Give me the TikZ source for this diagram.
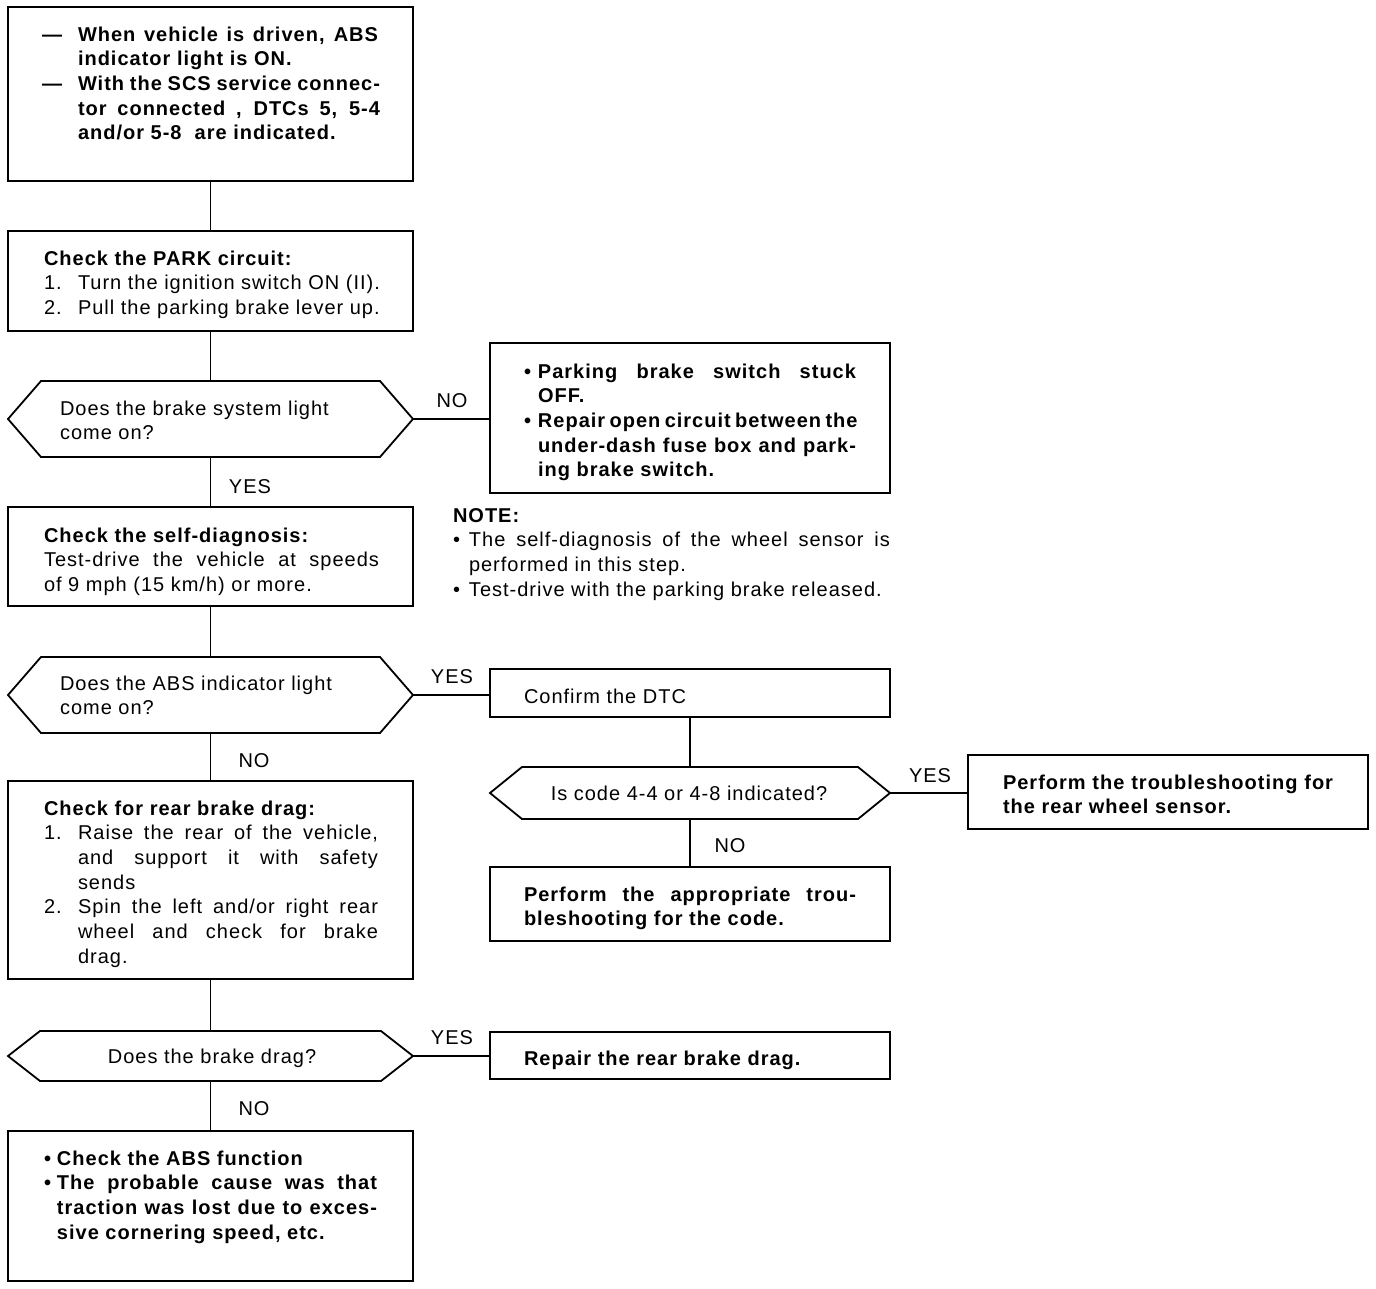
\documentclass[tikz,border=0pt]{standalone}
\usepackage{fontspec}
\setmainfont{Liberation Sans}[LetterSpace=5]
\newcommand\blk[1]{\vtop{\baselineskip=24.7pt\lineskiplimit=-20pt\lineskip=0pt #1}}
\newcommand\Ln[1]{\hbox{#1}}
\newcommand\Lj[2]{\hbox to #1{#2}}
\newcommand\hng[3]{\hbox{\makebox[#1][l]{#2}#3}}
\newcommand\hngj[4]{\hbox{\makebox[#1][l]{#2}\hbox to #3{#4}}}
\newcommand\ind[2]{\hbox{\hspace*{#1}#2}}
\newcommand\indj[3]{\hbox{\hspace*{#1}\hbox to #2{#3}}}
\newcommand\hexof[2]{\draw[boxline] ([xshift=#2]#1.north west) -- ([xshift=-#2]#1.north east) -- (#1.east) -- ([xshift=-#2]#1.south east) -- ([xshift=#2]#1.south west) -- (#1.west) -- cycle;}
\begin{document}
\begin{tikzpicture}[x=1pt,y=-1pt,
  font=\fontsize{20pt}{24.7pt}\selectfont,
  boxline/.style={line width=1.8pt,line join=miter},
  box/.style={draw,boxline,anchor=north west,inner sep=0pt,outer sep=0pt},
  hexn/.style={anchor=north west,inner sep=0pt,outer sep=0pt},
  txt/.style={anchor=base west,inner sep=0pt,outer sep=0pt},
  btxt/.style={txt,font=\fontsize{20pt}{24.7pt}\selectfont\bfseries},
  ctxt/.style={anchor=base,inner sep=0pt,outer sep=0pt},
  lbl/.style={anchor=base,inner sep=0pt},
  conn/.style={line width=1.5pt}]
\useasboundingbox (0,0) rectangle (1376,1288);
\fill[white] (0,0) rectangle (1376,1288);

% boxes
\node[box,minimum width=405pt,minimum height=174pt] (b1) at (8,7) {};
\node[box,minimum width=405pt,minimum height=100pt] (b2) at (8,231) {};
\node[hexn,minimum width=405pt,minimum height=76pt] (h1) at (8,381) {};
\hexof{h1}{33pt}
\node[box,minimum width=400pt,minimum height=150pt] (b3) at (490,343) {};
\node[box,minimum width=405pt,minimum height=99pt] (b4) at (8,507) {};
\node[hexn,minimum width=405pt,minimum height=76pt] (h2) at (8,657) {};
\hexof{h2}{33pt}
\node[box,minimum width=400pt,minimum height=48pt] (b5) at (490,669) {};
\node[hexn,minimum width=400pt,minimum height=52pt] (h3) at (490,767) {};
\hexof{h3}{32pt}
\node[box,minimum width=400pt,minimum height=74pt] (b6) at (968,755) {};
\node[box,minimum width=400pt,minimum height=74pt] (b7) at (490,867) {};
\node[box,minimum width=405pt,minimum height=198pt] (b8) at (8,781) {};
\node[hexn,minimum width=405pt,minimum height=50pt] (h4) at (8,1031) {};
\hexof{h4}{32pt}
\node[box,minimum width=400pt,minimum height=47pt] (b9) at (490,1032) {};
\node[box,minimum width=405pt,minimum height=150pt] (b10) at (8,1131) {};

% texts
\node[btxt] (t1) at (42,41) {\blk{%
\hngj{36pt}{—}{300pt}{When vehicle is driven, ABS}
\ind{36pt}{indicator light is ON.}
\hngj{36pt}{—}{302pt}{With the SCS service connec-}
\indj{36pt}{302pt}{tor connected , DTCs 5, 5-4}
\ind{36pt}{and/or 5-8 \ are indicated.}}};

\node[txt] (t2) at (44,265) {\blk{%
\Ln{\bfseries Check the PARK circuit:}
\hng{34pt}{1.}{Turn the ignition switch ON (II).}
\hng{34pt}{2.}{Pull the parking brake lever up.}}};

\node[txt] (th1) at (60,415) {\blk{\Ln{Does the brake system light}\Ln{come on?}}};

\node[btxt] (t3) at (524,378) {\blk{%
\hngj{14pt}{•}{318pt}{Parking brake switch stuck}
\ind{14pt}{OFF.}
\hngj{14pt}{•}{318pt}{Repair open circuit between the}
\indj{14pt}{318pt}{under-dash fuse box and park-}
\ind{14pt}{ing brake switch.}}};

\node[txt] (t4) at (44,542) {\blk{%
\Ln{\bfseries Check the self-diagnosis:}
\Lj{335pt}{Test-drive the vehicle at speeds}
\Ln{of 9 mph (15 km/h) or more.}}};

\node[txt] (note) at (453,522) {\blk{%
\Ln{\bfseries NOTE:}
\hngj{16pt}{•}{421pt}{The self-diagnosis of the wheel sensor is}
\ind{16pt}{performed in this step.}
\hng{16pt}{•}{Test-drive with the parking brake released.}}};

\node[txt] (th2) at (60,690) {\blk{\Ln{Does the ABS indicator light}\Ln{come on?}}};
\node[txt] (t5) at (524,703) {Confirm the DTC};
\node[ctxt] (th3) at (689,800) {Is code 4-4 or 4-8 indicated?};
\node[btxt] (t6) at (1003,789) {\blk{%
\Lj{330pt}{Perform the troubleshooting for}\Ln{the rear wheel sensor.}}};
\node[btxt] (t7) at (524,901) {\blk{%
\Lj{332pt}{Perform the appropriate trou-}\Ln{bleshooting for the code.}}};

\node[txt] (t8) at (44,815) {\blk{%
\Ln{\bfseries Check for rear brake drag:}
\hngj{34pt}{1.}{300pt}{Raise the rear of the vehicle,}
\indj{34pt}{300pt}{and support it with safety}
\ind{34pt}{sends}
\hngj{34pt}{2.}{300pt}{Spin the left and/or right rear}
\indj{34pt}{300pt}{wheel and check for brake}
\ind{34pt}{drag.}}};

\node[ctxt] (th4) at (212,1063) {Does the brake drag?};
\node[btxt] (t9) at (524,1065) {Repair the rear brake drag.};

\node[btxt] (t10) at (44,1165) {\blk{%
\hng{13pt}{•}{Check the ABS function}
\hngj{13pt}{•}{320pt}{The probable cause was that}
\indj{13pt}{320pt}{traction was lost due to exces-}
\ind{13pt}{sive cornering speed, etc.}}};

% connectors
\draw[conn] (b1.south) -- (b1.south |- b2.north);
\draw[conn] (b2.south) -- (b2.south |- h1.north);
\draw[conn] (h1.east) -- (h1.east -| b3.west);
\draw[conn] (h1.south) -- (h1.south |- b4.north);
\draw[conn] (b4.south) -- (b4.south |- h2.north);
\draw[conn] (h2.east) -- (h2.east -| b5.west);
\draw[conn] (b5.south) -- (b5.south |- h3.north);
\draw[conn] (h3.east) -- (h3.east -| b6.west);
\draw[conn] (h3.south) -- (h3.south |- b7.north);
\draw[conn] (h2.south) -- (h2.south |- b8.north);
\draw[conn] (b8.south) -- (b8.south |- h4.north);
\draw[conn] (h4.east) -- (h4.east -| b9.west);
\draw[conn] (h4.south) -- (h4.south |- b10.north);

% labels
\node[lbl] (l1) at (452,407) {NO};
\node[lbl] (l2) at (250,493) {YES};
\node[lbl] (l3) at (452,683) {YES};
\node[lbl] (l4) at (930,782) {YES};
\node[lbl] (l5) at (730,852) {NO};
\node[lbl] (l6) at (254,767) {NO};
\node[lbl] (l7) at (452,1044) {YES};
\node[lbl] (l8) at (254,1115) {NO};
\end{tikzpicture}
\end{document}
